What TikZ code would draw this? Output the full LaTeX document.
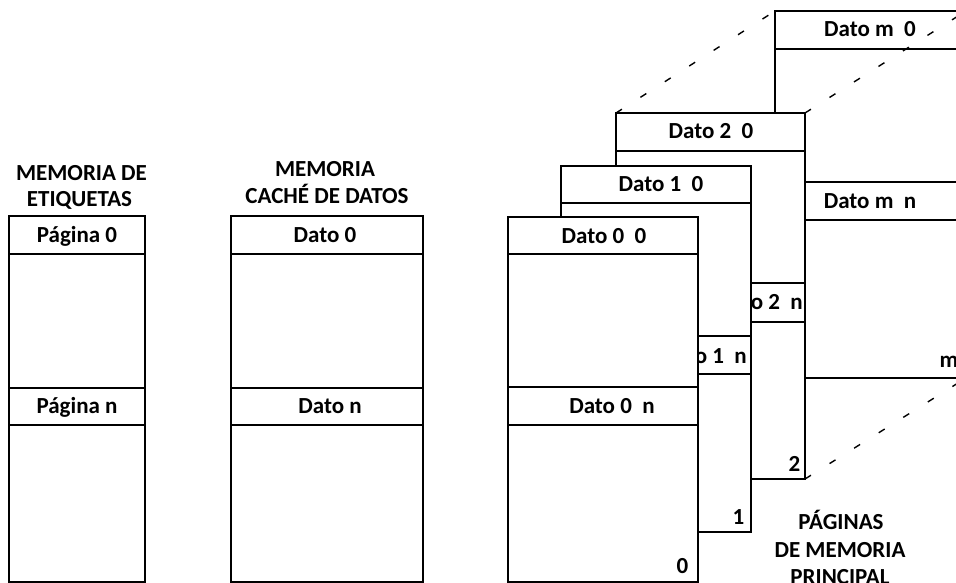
\documentclass[tikz,border=0pt]{standalone}
\usepackage{fontspec}
\setmainfont{Carlito}
\begin{document}
\begin{tikzpicture}[x=1pt,y=-1pt,
  box/.style={draw=black,line width=1.8pt,fill=white},
  rule/.style={line width=1.8pt},
  lbl/.style={font=\bfseries\fontsize{23}{27}\selectfont,inner sep=0pt,anchor=base,text=black},
  dashline/.style={line width=1.4pt,dash pattern=on 7pt off 22pt}]
\useasboundingbox (0,0) rectangle (956,583);
\clip (0,0) rectangle (956,583);

% ---- Memoria de etiquetas
\node[lbl] (t1a) at (81.5,180) {MEMORIA DE};
\node[lbl] (t1b) at (79.5,206) {ETIQUETAS};
\draw[box] (9,216) rectangle (145,582);
\draw[rule] (9,254) -- (145,254) (9,388) -- (145,388) (9,425) -- (145,425);
\node[lbl] (pg0) at (77,242) {Página 0};
\node[lbl] (pgn) at (77,413) {Página n};

% ---- Memoria cache de datos
\node[lbl] (t2a) at (325,177) {MEMORIA};
\node[lbl] (t2b) at (327,204) {CACHÉ DE DATOS};
\draw[box] (231,216) rectangle (423,582);
\draw[rule] (231,254) -- (423,254) (231,388) -- (423,388) (231,425) -- (423,425);
\node[lbl] (cd0) at (325,242) {Dato 0};
\node[lbl] (cdn) at (330,413) {Dato n};

% ---- Page m
\coordinate (mtl) at (775,11);
\coordinate (mtr) at (966,11);
\coordinate (mbr) at (966,378);
\draw[box] (mtl) rectangle (mbr);
\draw[rule] (775,49) -- (966,49) (775,182) -- (966,182) (775,220) -- (966,220);
\node[lbl] (dm0) at (870,37) {Dato m\ \ 0};
\node[lbl] (dmn) at (870,208) {Dato m\ \ n};
\node[lbl] (pm) at (949,367) {m};

% ---- dashed perspective lines
\coordinate (tl2) at (616,113);
\coordinate (tr2) at (805,113);
\coordinate (br2) at (805,479);
\draw[dashline] (tl2) -- (mtl);
\draw[dashline] (tr2) -- (mtr);
\draw[dashline] (br2) -- (mbr);

% ---- Page 2
\draw[box] (tl2) rectangle (br2);
\draw[rule] (616,151) -- (805,151) (616,283) -- (805,283) (616,322) -- (805,322);
\node[lbl] (d20) at (711,139) {Dato 2\ \ 0};
\node[lbl,anchor=base east] (d2n) at (803,309) {Dato 2\ \ n};
\node[lbl] (p2) at (794.5,471) {2};

% ---- Page 1
\draw[box] (561,166) rectangle (751,532);
\draw[rule] (561,203) -- (751,203) (561,336) -- (751,336) (561,374) -- (751,374);
\node[lbl] (d10) at (661,192) {Dato 1\ \ 0};
\node[lbl,anchor=base east] (d1n) at (747,363) {Dato 1\ \ n};
\node[lbl] (p1) at (738.5,524) {1};

% ---- Page 0
\draw[box] (508,217) rectangle (698,582);
\draw[rule] (508,254) -- (698,254) (508,387) -- (698,387) (508,425) -- (698,425);
\node[lbl] (d00) at (604,243) {Dato 0\ \ 0};
\node[lbl] (d0n) at (612,413) {Dato 0\ \ n};
\node[lbl] (p0) at (682.5,573) {0};

% ---- caption
\node[lbl] (c1) at (841,529) {PÁGINAS};
\node[lbl] (c2) at (840,557) {DE MEMORIA};
\node[lbl] (c3) at (840,584) {PRINCIPAL};
\end{tikzpicture}
\end{document}
